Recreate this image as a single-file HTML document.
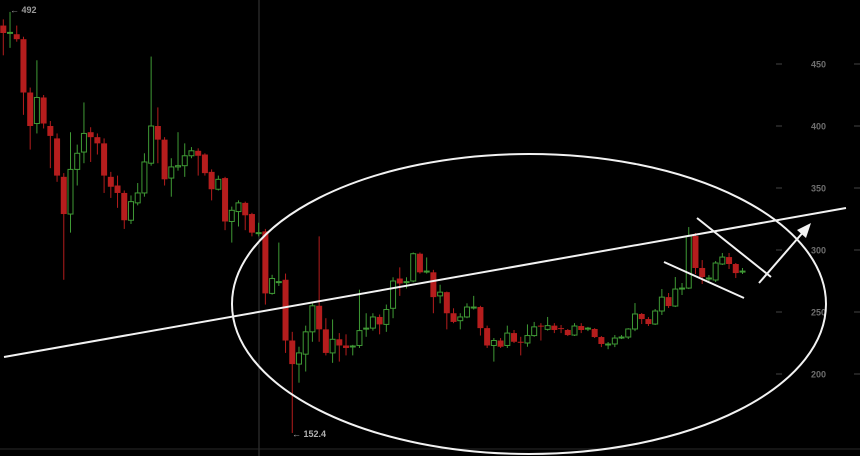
<!DOCTYPE html>
<html><head><meta charset="utf-8"><style>
html,body{margin:0;padding:0;background:#000;}
svg{display:block;font-family:"Liberation Sans",sans-serif;}
</style></head><body>
<svg id="chart" width="860" height="456" viewBox="0 0 860 456">
<rect x="0" y="0" width="860" height="456" fill="#000"/>
<line x1="259" y1="0" x2="259" y2="456" stroke="#3a3a3a" stroke-width="1"/>
<line x1="0" y1="449" x2="860" y2="449" stroke="#2a2a2a" stroke-width="1"/>
<g id="axis"></g>
<g id="candles"></g>
<text x="10" y="13" fill="#9a9a9a" font-size="9" font-weight="bold">← 492</text>
<text x="292" y="437" fill="#b0b0b0" font-size="9" font-weight="bold">← 152.4</text>
<g fill="none" stroke="#f2f2f2" stroke-width="2">
<ellipse cx="529" cy="304" rx="297" ry="150"/>
<line x1="4" y1="357" x2="846" y2="208"/>
<line x1="697" y1="218" x2="771" y2="277"/>
<line x1="664" y1="262" x2="744" y2="298"/>
<line x1="759" y1="283" x2="805" y2="230"/>
<polygon points="811,223 797,230 806,238" fill="#f2f2f2" stroke="none"/>
</g>
</svg>
<script>
const yTicks = [450, 400, 350, 300, 250, 200];
const opens  = [481,475,474,470,427,402,423,400,390,359,329,365,379,395,391,386,359,352,346,324,338,346,370,400,389,358,367,368,376,380,377,363,349,358,323,331,338,329,313.5,315,265,274,276,227,208,216,234,255,236,217,228,223,222,223,236.5,237,246,240,253,277,274,275,297,282.7,282,263,266,249,243,246,253.7,254,237,223,227,223,233,226,225,231,239,236,239,237,235.5,231.4,238.7,236.9,236.3,229.8,224,224.2,229.6,229.8,236.3,248.4,244.3,240.3,250.8,262,254.8,269,269.3,311.3,285.5,277.2,275.8,288.7,294.3,288.7,282.8];
const highs  = [486,492,481,472,431,453,425,404,394,362,395,385,419,399,394,390,363,360,348,344,354,378,456,415,391,374,395,386,383,382,378,365,360,359,335,340,339,330,322,317,280,306,281,234,222,239,257,311,245,244,233,232,223.5,268,249,249,248,256,278,286,278,298,298,294,284,272,266.5,253,249,257,263,255,239,229,229,239,235.5,230,240,242,241,246,241,239.5,236.3,241,241,238,237,230.6,225.8,231.4,231.4,237,257.2,249.2,245.9,252.4,268.5,265.3,278.2,273.4,318.5,313.7,291.9,279.8,291.1,297.6,297.6,289.5,285.5];
const lows   = [457,463,468,409,381,394,398,366,355,276,314,352,370,371,377,346,342,334,317,321,336,343,368,370,352,343,364,359,374,360,360,340,348,316,306,319,316,311,311,256,264,271,217,152.4,193,202,226,226,215,209,210,215,215,221,230,235,232,234,245,263,269,274,281,281,249,257,236,241,236,245,252,231,221,210,221,221,225,215,222,230,227,235,233,233,230.6,230.6,233,234.6,229,221.7,220,221.7,228.2,228.2,234.6,240.3,238.7,239.5,247.6,253.2,254,263.7,268.5,280.6,272.6,275,274.2,287.9,284.7,277.4,280.6];
const closes = [475,475.5,470,427,400,423,402,392,360,329,365,378,394,391,386,360,351,346,324,339,346,371,400,389,357,367,368,376,380,376,362,349,357,323,332,338,328,314,314,265,277,274.5,227,208,217,234,255,236,217,228,223,221,222.6,235,237,246,240,252,275,273,274.5,297,282,283,262,266,249,242,246,254,254,237,223,227,222,233,226,225.8,231,238,238.7,239,235.5,236.8,231.4,238.7,235.5,237,229.8,224.2,224.2,229,229.8,236.3,248.4,244.3,240.3,250.8,262,254.8,268.5,269.3,311.3,285.5,278.2,277.4,289.5,294.3,288.7,281.4,283];

const NS = "http://www.w3.org/2000/svg";
function yScale(v){ return 250 + (300 - v) * 1.24; }
function xScale(i){ return 3.3 + i * 6.72; }
function mk(tag, attrs){ const e = document.createElementNS(NS, tag); for (const k in attrs) e.setAttribute(k, attrs[k]); return e; }

const axis = document.getElementById('axis');
yTicks.forEach(t => {
  const y = yScale(t);
  const t1 = mk('line', {x1: 776, x2: 782, y1: y, y2: y, stroke: '#444', 'stroke-width': 1});
  
  
  axis.appendChild(t1);
  const t2 = mk('line', {x1: 854, x2: 860, y1: y, y2: y, stroke: '#444', 'stroke-width': 1});
  
  
  axis.appendChild(t2);
  const lbl = mk('text', {x: 826, y: y + 3.5, fill: '#6e6e6e', 'font-size': 9, 'font-weight': 'bold', 'text-anchor': 'end'});
  lbl.textContent = t;
  
  
  axis.appendChild(lbl);
});

const cg = document.getElementById('candles');
opens.forEach((o, i) => {
  const c = closes[i], h = highs[i], l = lows[i];
  const up = c >= o;
  const col = up ? '#3f9a35' : '#b51d1d';
  const x = xScale(i);
  const g = mk('g', {});
  
  
  const top = yScale(Math.max(o, c)), bot = yScale(Math.min(o, c));
  const wick = mk('line', {x1: x, x2: x, y1: yScale(h), y2: yScale(l), stroke: col, 'stroke-width': 1});
  
  
  g.appendChild(wick);
  const bh = Math.max(bot - top, 1);
  let body;
  if (up) body = mk('rect', {x: x - 2.5, y: top, width: 5, height: bh, fill: '#000', stroke: col, 'stroke-width': 1});
  else body = mk('rect', {x: x - 3, y: top, width: 6, height: bh, fill: col});
  
  
  g.appendChild(body);
  cg.appendChild(g);
});
</script>
</body></html>
